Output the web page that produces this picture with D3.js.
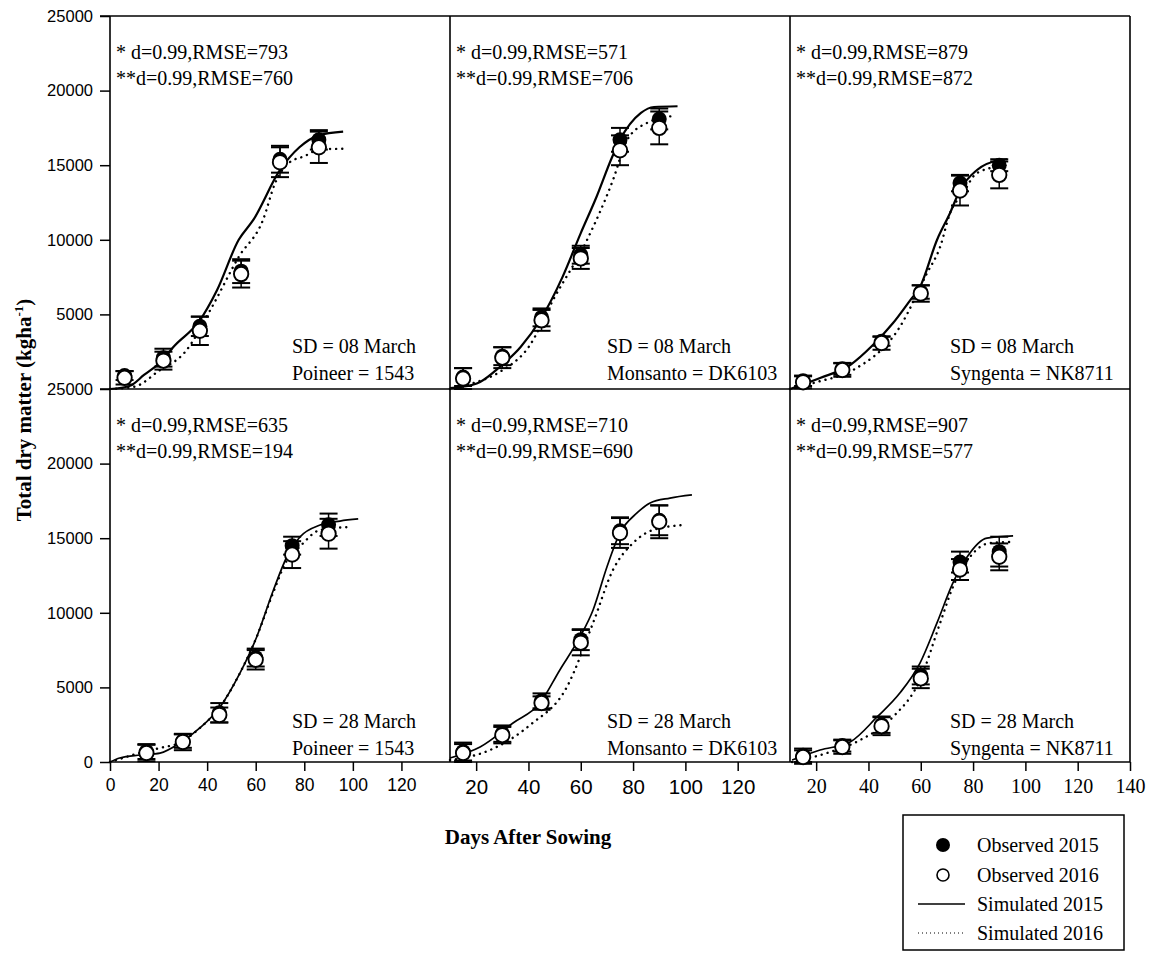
<!DOCTYPE html>
<html><head><meta charset="utf-8">
<script src="https://cdn.jsdelivr.net/npm/d3@7"></script>
<style>body{margin:0;background:#fff}svg{display:block}</style>
</head><body>
<script>
// ---------- data ----------
const cultivars = ["Poineer = 1543", "Monsanto = DK6103", "Syngenta = NK8711"];
const sowingLabels = ["SD = 08 March", "SD = 08 March", "SD = 08 March", "SD = 28 March", "SD =  28 March", "SD =  28 March"];
const statsLine1 = ["* d=0.99,RMSE=793", "* d=0.99,RMSE=571", "* d=0.99,RMSE=879", "* d=0.99,RMSE=635", "* d=0.99,RMSE=710", "* d=0.99,RMSE=907"];
const statsLine2 = ["**d=0.99,RMSE=760", "**d=0.99,RMSE=706", "**d=0.99,RMSE=872", "**d=0.99,RMSE=194", "**d=0.99,RMSE=690", "**d=0.99,RMSE=577"];
const yTicks = [0, 5000, 10000, 15000, 20000, 25000];
const xTicksPanel = [[0, 20, 40, 60, 80, 100, 120], [20, 40, 60, 80, 100, 120], [20, 40, 60, 80, 100, 120, 140]];
const legendLabels = ["Observed 2015", "Observed 2016", "Simulated 2015", "Simulated 2016"];

const obsDays = [
  [6, 22, 37, 54, 70, 86],
  [15, 30, 45, 60, 75, 90],
  [15, 30, 45, 60, 75, 90],
  [15, 30, 45, 60, 75, 90],
  [15, 30, 45, 60, 75, 90],
  [15, 30, 45, 60, 75, 90]
];
const obs2015 = [
  [900, 2100, 4200, 7900, 15400, 16700],
  [800, 2200, 4800, 9000, 16700, 18100],
  [550, 1350, 3200, 6500, 13800, 15000],
  [700, 1400, 3300, 7000, 14500, 15900],
  [700, 1900, 4100, 8200, 15500, 16200],
  [450, 1100, 2500, 5800, 13400, 14100]
];
const err2015 = [
  [300, 600, 650, 800, 900, 650],
  [600, 600, 600, 600, 800, 700],
  [350, 400, 300, 450, 550, 400],
  [500, 450, 650, 600, 600, 750],
  [600, 550, 500, 700, 900, 1000],
  [450, 400, 550, 600, 700, 1000]
];
const obs2016 = [
  [750, 1900, 3900, 7700, 15200, 16200],
  [700, 2100, 4600, 8750, 16000, 17500],
  [450, 1270, 3080, 6400, 13300, 14350],
  [600, 1340, 3150, 6850, 13900, 15300],
  [600, 1800, 3950, 8000, 15350, 16100],
  [330, 1000, 2400, 5600, 12900, 13750]
];
const err2016 = [
  [450, 600, 950, 900, 1000, 1050],
  [700, 700, 700, 700, 1000, 1100],
  [400, 450, 450, 550, 1000, 900],
  [550, 550, 500, 650, 900, 1000],
  [600, 550, 450, 850, 1000, 1100],
  [450, 450, 600, 650, 700, 900]
];
const sim2015Days = [
  [0, 8, 14, 22, 26, 37, 44, 53, 59, 70, 78, 86, 96],
  [10, 14, 21.5, 29, 37, 44.5, 53, 60, 66, 72, 75, 83, 88, 97],
  [10, 21.5, 33, 41.7, 49.4, 56, 59.7, 66.2, 71.2, 75, 81.5, 90.3, 93],
  [0, 4, 12.4, 20.6, 28.8, 37, 45.3, 53.5, 60.4, 67.3, 72.8, 78.2, 86.5, 94.7, 102.2],
  [10, 21.5, 34.1, 44.4, 52, 59.7, 64.7, 70, 75, 81.5, 86.5, 94.1, 102.5],
  [10.8, 21.5, 33, 43.3, 52, 59.7, 66.2, 72.3, 77.7, 85.3, 95.3]
];
const sim2015Vals = [
  [0, 200, 940, 2000, 2800, 4600, 6600, 10000, 11330, 14680, 16200, 17000, 17250],
  [60, 130, 470, 1475, 2815, 4625, 7500, 10450, 12870, 15550, 16690, 18500, 18900, 18950],
  [0, 740, 1610, 2950, 4420, 5960, 6840, 9990, 11800, 13340, 14680, 15350, 15400],
  [0, 270, 470, 600, 1270, 2280, 3690, 5960, 8380, 11530, 13740, 15080, 15880, 16150, 16290],
  [270, 1010, 2610, 3950, 6170, 8380, 10190, 13070, 15350, 16690, 17360, 17690, 17900],
  [130, 800, 1340, 3020, 4620, 6630, 9320, 12000, 13740, 15010, 15150]
];
const sim2016Days = [
  [0, 10, 20, 31, 42, 53, 63, 68, 74, 80, 86, 96],
  [10, 19, 29, 40.6, 49.4, 62.4, 72.3, 77.7, 85.3, 95.3],
  [10, 20.3, 34.1, 52, 62.4, 67.4, 71.2, 76.2, 81.5, 90.3, 93],
  [0, 4, 12, 20.6, 28.8, 37, 45.3, 53.5, 60.4, 67.3, 72.8, 78, 86.5, 98.8],
  [10, 25.3, 40.6, 54.7, 64.7, 72.3, 80, 87.6, 99.1],
  [10.8, 24.1, 36.8, 49.4, 59.7, 67.4, 72.3, 78.8, 86.5, 95.3]
];
const sim2016Vals = [
  [0, 150, 1200, 2500, 5500, 8850, 11330, 13800, 15200, 15600, 16050, 16100],
  [0, 400, 1140, 2950, 5960, 9990, 14000, 16690, 17830, 18300],
  [0, 470, 1270, 4160, 7770, 9520, 11800, 13140, 14480, 14880, 14880],
  [0, 200, 600, 940, 1300, 2280, 3690, 5960, 8380, 11400, 13500, 14410, 15550, 15750],
  [130, 800, 2480, 5030, 9320, 12870, 14680, 15550, 15880],
  [0, 600, 1470, 3020, 5500, 9320, 11730, 13740, 14680, 14750]
];

// ---------- layout ----------
const W = 1150, H = 960;
const left = 110, pw = 340, top0 = 16, ph = 373;
const xDomains = [[0, 140], [10, 140], [10, 140]];
const serif = "'Liberation Serif','Times New Roman',serif";
const sans = "'Liberation Sans',Arial,sans-serif";

const svg = d3.select("body").append("svg").attr("width", W).attr("height", H);

const xScales = xDomains.map((d, i) => d3.scaleLinear().domain(d).range([left + i * pw, left + (i + 1) * pw]));
const yScales = [0, 1].map(r => d3.scaleLinear().domain([0, 25000]).range([top0 + (r + 1) * ph, top0 + r * ph]));

// y axes
[0, 1].forEach(r => {
  const ticks = r === 0 ? yTicks.filter(t => t > 0) : yTicks;
  const g = svg.append("g").attr("transform", `translate(${left},0)`)
    .call(d3.axisLeft(yScales[r]).tickValues(ticks).tickSize(10).tickPadding(7).tickFormat(d3.format("d")));
  g.select(".domain").remove();
  g.selectAll("line").attr("stroke", "#000").attr("stroke-width", 1.5);
  g.selectAll("text").attr("font-family", sans).attr("font-size", 16.5).attr("fill", "#000");
});

// x axes
const xFonts = [[sans, 17.5], [sans, 20.5], [serif, 20]];
[0, 1, 2].forEach(c => {
  const g = svg.append("g").attr("transform", `translate(0,${top0 + 2 * ph})`)
    .call(d3.axisBottom(xScales[c]).tickValues(xTicksPanel[c]).tickSize(9).tickPadding(8));
  g.select(".domain").remove();
  g.selectAll("line").attr("stroke", "#000").attr("stroke-width", 1.5);
  g.selectAll("text").attr("font-family", xFonts[c][0]).attr("font-size", xFonts[c][1]).attr("fill", "#000");
});

// frame lines
const frame = svg.append("g").attr("stroke", "#000").attr("stroke-width", 1.6).attr("fill", "none");
frame.append("line").attr("x1", left - 10).attr("x2", left + 3 * pw).attr("y1", top0).attr("y2", top0);
frame.append("line").attr("x1", left - 10).attr("x2", left + 3 * pw).attr("y1", top0 + ph).attr("y2", top0 + ph);
frame.append("line").attr("x1", left).attr("x2", left + 3 * pw).attr("y1", top0 + 2 * ph).attr("y2", top0 + 2 * ph);
[0, 1, 2, 3].forEach(i => frame.append("line").attr("x1", left + i * pw).attr("x2", left + i * pw).attr("y1", top0).attr("y2", top0 + 2 * ph));

// panels
for (let p = 0; p < 6; p++) {
  const r = Math.floor(p / 3), c = p % 3;
  const x = xScales[c], y = yScales[r];
  const g = svg.append("g");
  const lw = r === 0 ? 2.2 : 1.7;
  const line = d3.line().x(d => x(d[0])).y(d => y(d[1])).curve(d3.curveMonotoneX);
  const s15 = sim2015Days[p].map((d, i) => [d, sim2015Vals[p][i]]);
  const s16 = sim2016Days[p].map((d, i) => [d, sim2016Vals[p][i]]);
  g.append("path").attr("d", line(s16)).attr("fill", "none").attr("stroke", "#000").attr("stroke-width", 2.4)
    .attr("stroke-dasharray", "0.1 6").attr("stroke-linecap", "round");
  g.append("path").attr("d", line(s15)).attr("fill", "none").attr("stroke", "#000").attr("stroke-width", lw);

  // error bars
  const cap = 9;
  [[obs2015, err2015], [obs2016, err2016]].forEach(([vals, errs]) => {
    obsDays[p].forEach((d, i) => {
      const cx = x(d), v = vals[p][i], e = errs[p][i];
      const y1 = y(v + e), y2 = y(v - e);
      g.append("line").attr("x1", cx).attr("x2", cx).attr("y1", y1).attr("y2", y2).attr("stroke", "#000").attr("stroke-width", 1.5);
      g.append("line").attr("x1", cx - cap).attr("x2", cx + cap).attr("y1", y1).attr("y2", y1).attr("stroke", "#000").attr("stroke-width", 2);
      g.append("line").attr("x1", cx - cap).attr("x2", cx + cap).attr("y1", y2).attr("y2", y2).attr("stroke", "#000").attr("stroke-width", 2);
    });
  });
  // points
  obsDays[p].forEach((d, i) => {
    g.append("circle").attr("cx", x(d)).attr("cy", y(obs2015[p][i])).attr("r", 7.5).attr("fill", "#000");
  });
  obsDays[p].forEach((d, i) => {
    g.append("circle").attr("cx", x(d)).attr("cy", y(obs2016[p][i])).attr("r", 7.2).attr("fill", "#fff").attr("stroke", "#000").attr("stroke-width", 1.9);
  });

  // texts
  const px = left + c * pw;
  const py = top0 + r * ph;
  const tx = px + 6;
  g.append("text").attr("x", tx).attr("y", py + 43).text(statsLine1[p]);
  g.append("text").attr("x", tx).attr("y", py + 69).text(statsLine2[p]);
  const sx = px + [182, 157, 160][c];
  g.append("text").attr("x", sx).attr("y", py + 337 + (r === 1 ? 2 : 0)).text(sowingLabels[p]);
  g.append("text").attr("x", sx).attr("y", py + 364 + (r === 1 ? 2 : 0)).text(cultivars[c]);
  g.selectAll("text").attr("font-family", serif).attr("font-size", 20).attr("fill", "#000");
}

// axis titles
svg.append("text").attr("x", 528).attr("y", 844).attr("text-anchor", "middle")
  .attr("font-family", serif).attr("font-weight", "bold").attr("font-size", 21).text("Days After Sowing");
const yl = svg.append("text").attr("transform", "translate(31,410) rotate(-90)").attr("text-anchor", "middle")
  .attr("font-family", serif).attr("font-weight", "bold").attr("font-size", 21);
yl.append("tspan").text("Total dry matter (kgha");
yl.append("tspan").attr("font-size", 13).attr("dy", -8).text("-1");
yl.append("tspan").attr("dy", 8).text(")");

// legend
const lg = svg.append("g");
lg.append("rect").attr("x", 903).attr("y", 815).attr("width", 221).attr("height", 135)
  .attr("fill", "#fff").attr("stroke", "#000").attr("stroke-width", 1.5);
const ly = [845, 875, 904, 933];
lg.append("circle").attr("cx", 943).attr("cy", ly[0]).attr("r", 7).attr("fill", "#000");
lg.append("circle").attr("cx", 943).attr("cy", ly[1]).attr("r", 6).attr("fill", "#fff").attr("stroke", "#000").attr("stroke-width", 1.6);
lg.append("line").attr("x1", 918).attr("x2", 965).attr("y1", ly[2]).attr("y2", ly[2]).attr("stroke", "#000").attr("stroke-width", 1.5);
lg.append("line").attr("x1", 918).attr("x2", 965).attr("y1", ly[3]).attr("y2", ly[3]).attr("stroke", "#000").attr("stroke-width", 1.2).attr("stroke-dasharray", "1 3");
legendLabels.forEach((t, i) => lg.append("text").attr("x", 977).attr("y", ly[i] + 7).attr("font-family", serif).attr("font-size", 20).text(t));
</script>
</body></html>
